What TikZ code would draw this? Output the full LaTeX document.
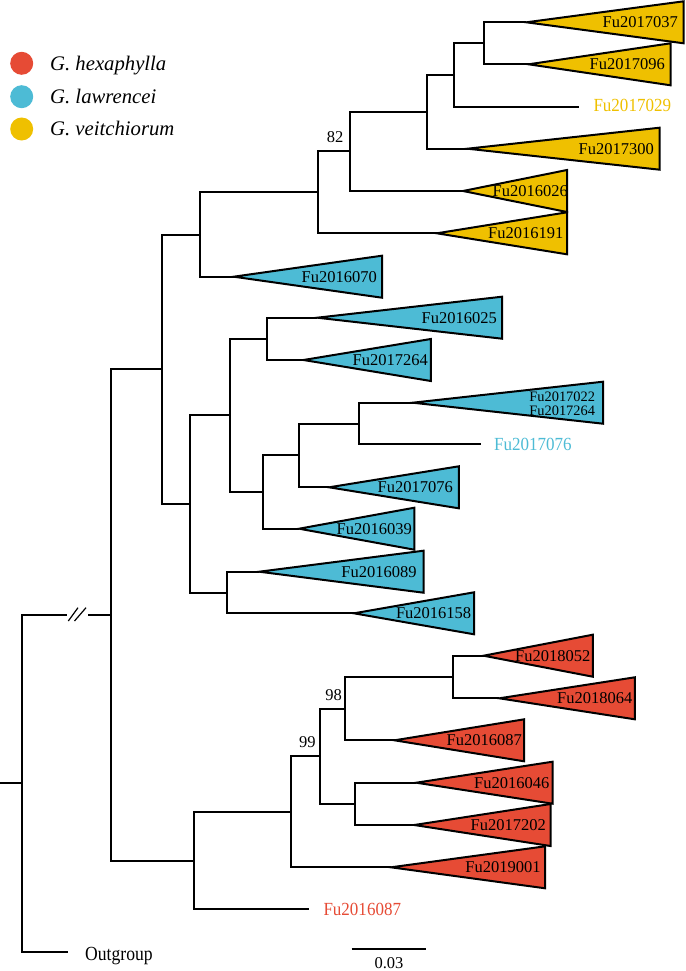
\documentclass[tikz,border=0pt]{standalone}
\usepackage{fontspec}
\setmainfont{Liberation Serif}
\newfontfamily\condserif[FakeStretch=0.92]{Liberation Serif}
\newfontfamily\narrowserif[FakeStretch=0.88]{Liberation Serif}
\definecolor{hexa}{HTML}{E64B35}
\definecolor{lawr}{HTML}{4DBBD5}
\definecolor{veit}{HTML}{EFC000}
\tikzset{
  br/.style={line width=2pt, draw=black},
  tri/.style={line width=2pt, draw=black},
  tiplab/.style={inner sep=0pt, font=\fontsize{16.5}{18}\selectfont, anchor=east},
  leaflab/.style={inner sep=0pt, font=\condserif\fontsize{18.5}{20}\selectfont, anchor=west},
  supp/.style={inner sep=0pt, font=\fontsize{16.5}{18}\selectfont},
  legtext/.style={inner sep=0pt, font=\itshape\fontsize{20.7}{22}\selectfont, anchor=base west},
  legdot/.style={circle, inner sep=0pt, minimum size=23pt},
  slash/.style={line width=1.2pt, draw=black},
}
% #1 name, #2 apex x, #3 apex y, #4 right x, #5 colour, #6 label end x, #7 label
\newcommand\cladetri[7]{%
  \coordinate (#1) at (#2,#3);
  \draw[tri,fill=#5] (#1) -- (#4,#3-21) -- (#4,#3+21) -- cycle;
  \node[tiplab] (#1-lab) at (#6,#3) {#7};
}
\begin{document}
\begin{tikzpicture}[x=1pt,y=-1pt]
\useasboundingbox (0,0) rectangle (685,971);

% legend
\node[legdot, fill=hexa] (dot1) at (21.7,63.3) {};
\node[legdot, fill=lawr] (dot2) at (21.7,96.7) {};
\node[legdot, fill=veit] (dot3) at (21.7,129) {};
\node[legtext] (leg1) at (50,70.1) {G. hexaphylla};
\node[legtext] (leg2) at (50,103.5) {G. lawrencei};
\node[legtext] (leg3) at (50,135.8) {G. veitchiorum};

% internal nodes
\coordinate (Ng) at (483.6,43.3);
\coordinate (Nf) at (454.4,75);
\coordinate (Ne) at (426.8,111.85);
\coordinate (Nd) at (350.4,151.4);
\coordinate (Nc) at (317.6,192.35);
\coordinate (Na) at (199.7,234.5);
\coordinate (Nj) at (266.7,338.85);
\coordinate (Nm) at (358.8,423.5);
\coordinate (Nl) at (299.4,455.4);
\coordinate (Nk) at (263.3,492.05);
\coordinate (Nh2) at (229.5,415.45);
\coordinate (Ni) at (227.1,592.5);
\coordinate (Nb) at (190.3,504);
\coordinate (Nv) at (162,369.25);
\coordinate (Ns) at (453,677);
\coordinate (Nq) at (345.1,708.65);
\coordinate (Nr) at (354.7,803.85);
\coordinate (Np) at (320.2,756.25);
\coordinate (No) at (291.4,811.8);
\coordinate (Nh) at (194.4,860.55);
\coordinate (N1) at (111,614.9);
\coordinate (N0) at (22.2,783.3);
\coordinate (Rt) at (0,783.3);
\coordinate (brkL) at (66.7,614.9);
\coordinate (brkR) at (88.3,614.9);
% single leaves
\coordinate (L029) at (578.9,106.7);
\coordinate (L076) at (481,444.3);
\coordinate (L087) at (308.9,909.3);
\coordinate (Lout) at (67.7,951.7);

% collapsed clades
\cladetri{t037}{526.4}{22.3}{683.7}{veit}{678}{Fu2017037}
\cladetri{t096}{528.6}{64.3}{670.6}{veit}{665}{Fu2017096}
\cladetri{t300}{467.5}{148.7}{659.7}{veit}{654}{Fu2017300}
\cladetri{t026}{463}{191}{567}{veit}{568}{Fu2016026}
\cladetri{t191}{436.9}{233.3}{567}{veit}{563.6}{Fu2016191}
\cladetri{t070}{233.7}{276.7}{382}{lawr}{377}{Fu2016070}
\cladetri{t025}{317.2}{317.7}{502.1}{lawr}{497}{Fu2016025}
\cladetri{t264}{303.5}{360}{430.8}{lawr}{428}{Fu2017264}
\coordinate (t022) at (412.7,402.7);
\draw[tri,fill=lawr] (t022) -- (603.1,381.7) -- (603.1,423.7) -- cycle;
\node[tiplab, font=\fontsize{14.4}{15}\selectfont] (t022-laba) at (595.2,396.7) {Fu2017022};
\node[tiplab, font=\fontsize{14.4}{15}\selectfont] (t022-labb) at (595.2,410.7) {Fu2017264};
\cladetri{t076}{329.1}{487.3}{458.8}{lawr}{453}{Fu2017076}
\cladetri{t039}{299.1}{528.7}{414.4}{lawr}{412}{Fu2016039}
\cladetri{t089}{259.2}{571.7}{423.6}{lawr}{416.8}{Fu2016089}
\cladetri{t158}{354}{613.3}{474.1}{lawr}{471.4}{Fu2016158}
\cladetri{t052}{483.6}{655.7}{592.8}{hexa}{590.6}{Fu2018052}
\cladetri{t064}{499.3}{698.3}{634.8}{hexa}{632.6}{Fu2018064}
\cladetri{t087}{394.5}{740.3}{524.2}{hexa}{522}{Fu2016087}
\cladetri{t046}{416.3}{782.7}{552.6}{hexa}{549.6}{Fu2016046}
\cladetri{t202}{414.2}{825}{550.5}{hexa}{546}{Fu2017202}
\cladetri{t001}{391}{867.3}{545.2}{hexa}{540.8}{Fu2019001}

% branches
\draw[br] (Ng) |- (t037);  \draw[br] (Ng) |- (t096);
\draw[br] (Nf) |- (Ng);    \draw[br] (Nf) |- (L029);
\draw[br] (Ne) |- (Nf);    \draw[br] (Ne) |- (t300);
\draw[br] (Nd) |- (Ne);    \draw[br] (Nd) |- (t026);
\draw[br] (Nc) |- (Nd);    \draw[br] (Nc) |- (t191);
\draw[br] (Na) |- (Nc);    \draw[br] (Na) |- (t070);
\draw[br] (Nv) |- (Na);    \draw[br] (Nv) |- (Nb);
\draw[br] (Nb) |- (Nh2);   \draw[br] (Nb) |- (Ni);
\draw[br] (Nh2) |- (Nj);   \draw[br] (Nh2) |- (Nk);
\draw[br] (Nj) |- (t025);  \draw[br] (Nj) |- (t264);
\draw[br] (Nk) |- (Nl);    \draw[br] (Nk) |- (t039);
\draw[br] (Nl) |- (Nm);    \draw[br] (Nl) |- (t076);
\draw[br] (Nm) |- (t022);  \draw[br] (Nm) |- (L076);
\draw[br] (Ni) |- (t089);  \draw[br] (Ni) |- (t158);
\draw[br] (N1) |- (Nv);    \draw[br] (N1) |- (Nh);
\draw[br] (Nh) |- (No);    \draw[br] (Nh) |- (L087);
\draw[br] (No) |- (Np);    \draw[br] (No) |- (t001);
\draw[br] (Np) |- (Nq);    \draw[br] (Np) |- (Nr);
\draw[br] (Nq) |- (Ns);    \draw[br] (Nq) |- (t087);
\draw[br] (Ns) |- (t052);  \draw[br] (Ns) |- (t064);
\draw[br] (Nr) |- (t046);  \draw[br] (Nr) |- (t202);
\draw[br] (N0) |- (brkL);  \draw[br] (brkR) -- (N1);
\draw[br] (N0) |- (Lout);  \draw[br] (Rt) -- (N0);

% axis break marks
\draw[slash] (68.3,621) -- (78,607.7);
\draw[slash] (74.5,621) -- (86,607.7);

% single-leaf labels
\node[leaflab, text=veit] (L029-lab) at (593.3,105.8) {Fu2017029};
\node[leaflab, text=lawr] (L076-lab) at (494,444.6) {Fu2017076};
\node[leaflab, text=hexa] (L087-lab) at (323.3,909.2) {Fu2016087};
\node[inner sep=0pt, anchor=base west, font=\narrowserif\fontsize{20}{22}\selectfont] (Lout-lab) at (85,960) {Outgroup};

% support values
\node[supp] (s82) at (335,137.2) {82};
\node[supp] (s98) at (333.7,694.7) {98};
\node[supp] (s99) at (307.3,742) {99};

% scale bar
\coordinate (sbL) at (351.7,949.3);
\coordinate (sbR) at (426,949.3);
\draw[br] (sbL) -- (sbR);
\node[supp] (sblab) at (389,963) {0.03};
\end{tikzpicture}
\end{document}
